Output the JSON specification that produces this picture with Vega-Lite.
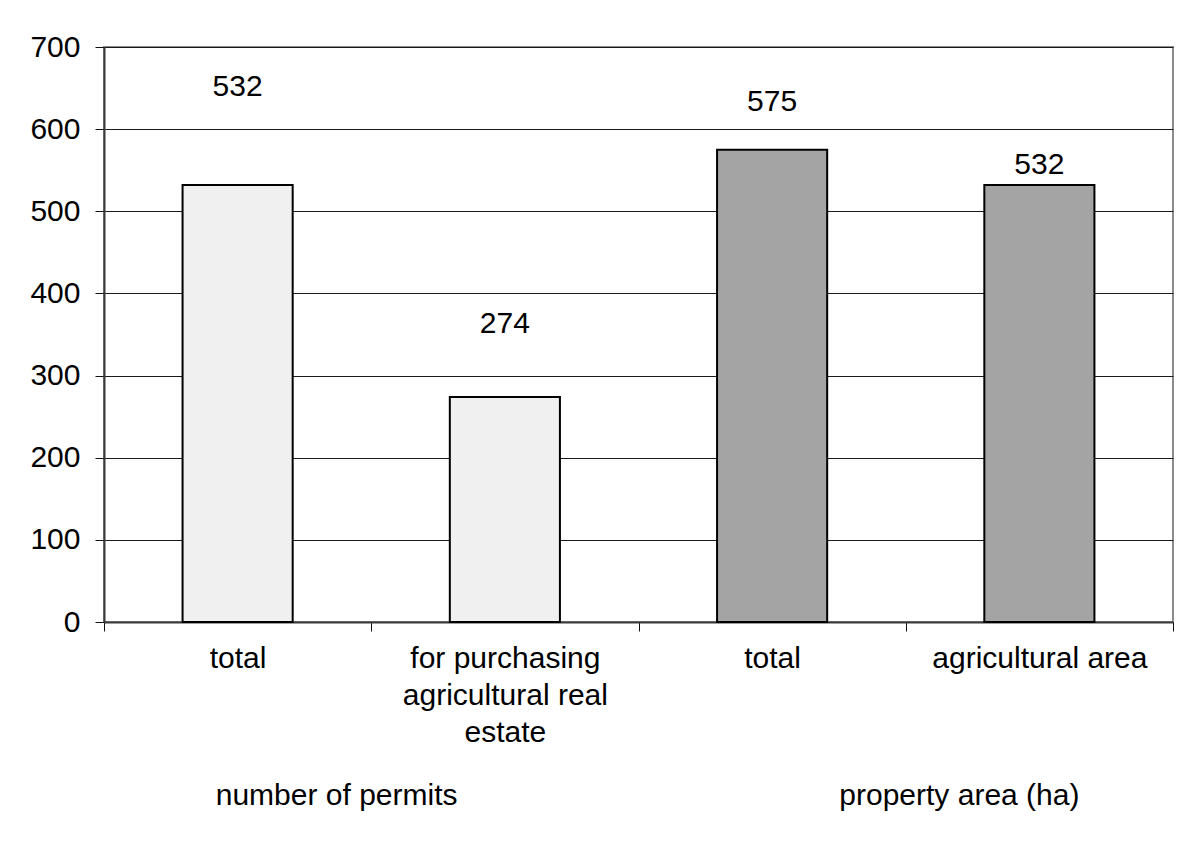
{
  "$schema": "https://vega.github.io/schema/vega-lite/v6.json",
  "width": 1069,
  "height": 575,
  "autosize": {"type": "none"},
  "padding": {"left": 104, "top": 47, "right": 23, "bottom": 221},
  "background": "white",
  "config": {
    "font": "Liberation Sans",
    "view": {"stroke": "#8c8c8c", "strokeWidth": 2},
    "axis": {"labelFont": "Liberation Sans", "labelFontSize": 30, "labelColor": "black"}
  },
  "data": {
    "values": [
      {"key": "permits-total", "group": "number of permits", "category": "total", "value": 532},
      {"key": "permits-purchase", "group": "number of permits", "category": "for purchasing agricultural real estate", "value": 274},
      {"key": "area-total", "group": "property area (ha)", "category": "total", "value": 575},
      {"key": "area-agri", "group": "property area (ha)", "category": "agricultural area", "value": 532}
    ]
  },
  "encoding": {
    "x": {
      "field": "key", "type": "nominal", "sort": null,
      "scale": {"paddingInner": 0, "paddingOuter": 0},
      "axis": {
        "title": null, "labelAngle": 0, "tickBand": "extent",
        "tickSize": 9, "tickColor": "#111111", "domainColor": "#3a3a3a", "domainWidth": 2,
        "labelPadding": 12, "labelBaseline": "top", "labelLineHeight": 37, "labelLimit": 0,
        "labelExpr": "datum.extra ? '' : datum.value == 'permits-purchase' ? ['for purchasing','agricultural real','estate'] : datum.value == 'area-agri' ? 'agricultural area' : 'total'"
      }
    }
  },
  "layer": [
    {
      "mark": {"type": "bar", "width": {"band": 0.412}, "stroke": "black", "strokeWidth": 2},
      "encoding": {
        "y": {
          "field": "value", "type": "quantitative",
          "scale": {"domain": [0, 700], "nice": false},
          "axis": {
            "title": null, "values": [0, 100, 200, 300, 400, 500, 600, 700],
            "tickSize": 9, "tickColor": "#111111", "domainColor": "#3a3a3a", "domainWidth": 2,
            "gridColor": "#1a1a1a", "gridOpacity": 1, "labelPadding": 15
          }
        },
        "fill": {
          "field": "group", "type": "nominal", "legend": null,
          "scale": {"range": ["#f0f0f0", "#a4a4a4"]}
        }
      }
    },
    {
      "transform": [{"filter": "datum.key == 'permits-total'"}],
      "mark": {"type": "text", "fontSize": 30, "baseline": "middle", "dy": -98},
      "encoding": {"y": {"field": "value", "type": "quantitative"}, "text": {"field": "value"}}
    },
    {
      "transform": [{"filter": "datum.key == 'permits-purchase'"}],
      "mark": {"type": "text", "fontSize": 30, "baseline": "middle", "dy": -73},
      "encoding": {"y": {"field": "value", "type": "quantitative"}, "text": {"field": "value"}}
    },
    {
      "transform": [{"filter": "datum.key == 'area-total'"}],
      "mark": {"type": "text", "fontSize": 30, "baseline": "middle", "dy": -48},
      "encoding": {"y": {"field": "value", "type": "quantitative"}, "text": {"field": "value"}}
    },
    {
      "transform": [{"filter": "datum.key == 'area-agri'"}],
      "mark": {"type": "text", "fontSize": 30, "baseline": "middle", "dy": -20},
      "encoding": {"y": {"field": "value", "type": "quantitative"}, "text": {"field": "value"}}
    },
    {
      "transform": [{"filter": "datum.key == 'permits-total'"}],
      "mark": {"type": "text", "fontSize": 30, "baseline": "middle", "dy": 174, "dx": 99},
      "encoding": {"y": {"datum": 0}, "text": {"field": "group"}}
    },
    {
      "transform": [{"filter": "datum.key == 'area-agri'"}],
      "mark": {"type": "text", "fontSize": 30, "baseline": "middle", "dy": 174, "dx": -80},
      "encoding": {"y": {"datum": 0}, "text": {"field": "group"}}
    }
  ]
}
